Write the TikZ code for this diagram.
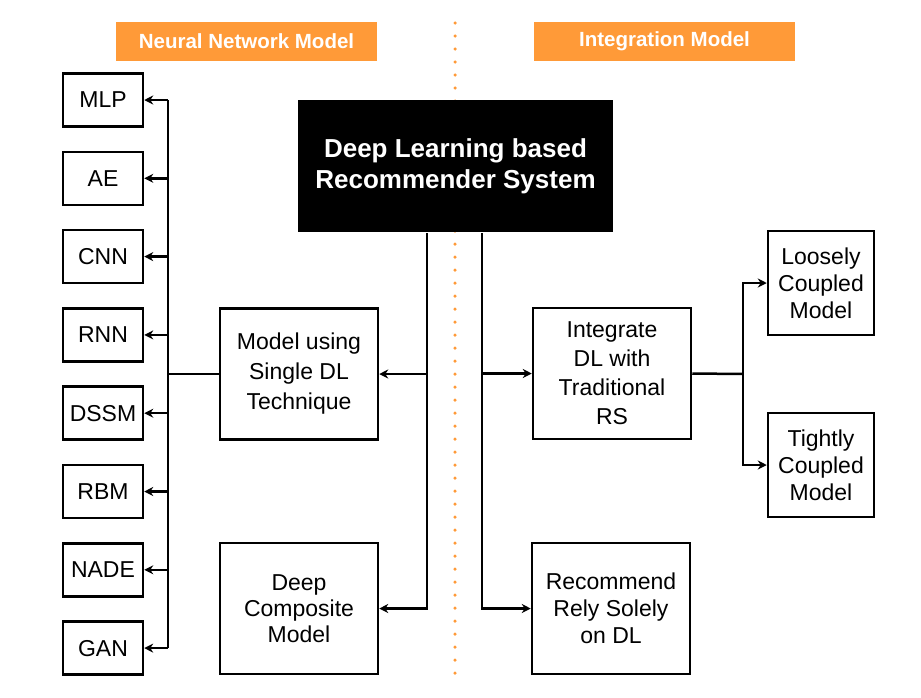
\documentclass[tikz,border=0pt]{standalone}
\usepackage{fontspec}
\setmainfont{Liberation Sans}
\usepackage{xcolor}
\usetikzlibrary{arrows.meta}
\usetikzlibrary{positioning}
\definecolor{hdrorange}{RGB}{255,154,56}

\begin{document}
\begin{tikzpicture}[x=1pt,y=-1pt,node distance=78.3pt,line width=2.5pt,
  arr/.style={-{Stealth[length=9pt,width=9pt]}}]
  \tikzstyle{every node}=[font=\fontsize{23}{27}\selectfont]
  \tikzstyle{leaf}=[draw=black, minimum width=80pt, minimum height=53pt, inner sep=0pt]
  \tikzstyle{kind}=[draw=black, minimum width=158pt, minimum height=131pt, align=center, inner sep=0pt]
  \tikzstyle{sub}=[draw=black, minimum width=106pt, minimum height=104pt, align=center, inner sep=0pt]
  \tikzstyle{hdr}=[fill=hdrorange, text=white, minimum width=261pt, minimum height=39pt,
    font=\fontsize{20.5}{24}\selectfont\bfseries]
  \useasboundingbox (0,0) rectangle (921,697);

  % headers and divider
  \node[hdr] (nnhdr) at (246.5,41.5) {Neural Network Model};
  \node[hdr] (inthdr) at (664.5,41.5) {Integration Model};
  \draw[hdrorange, line width=3.5pt, line cap=round, dash pattern=on 0pt off 13pt] (455,23) -- (455,676);

  % root
  \node[fill=black, text=white, minimum width=315pt, minimum height=132pt, align=center,
    font=\fontsize{26}{31}\selectfont\bfseries] (dl) at (455.5,166) {Deep Learning based\\Recommender System};

  % neural network models
  \node[leaf] (mlp) at (103,100) {MLP};
  \node[leaf] (ae) [below of=mlp] {AE};
  \node[leaf] (cnn) [below of=ae] {CNN};
  \node[leaf] (rnn) [below of=cnn] {RNN};
  \node[leaf] (dssm) [below of=rnn] {DSSM};
  \node[leaf] (rbm) [below of=dssm] {RBM};
  \node[leaf] (nade) [below of=rbm] {NADE};
  \node[leaf] (gan) [below of=nade] {GAN};

  \node[kind, font=\fontsize{23}{30}\selectfont] (single) at (299,374) {Model using\\Single DL\\Technique};
  \node[kind, font=\fontsize{23}{26}\selectfont] (deep) at (299,608.5) {Deep\\Composite\\Model};
  \node[kind, font=\fontsize{23}{29}\selectfont] (integ) at (612,373.5) {Integrate\\DL with\\Traditional\\RS};
  \node[kind, font=\fontsize{23}{27}\selectfont] (rely) at (611,608.5) {Recommend\\Rely Solely\\on DL};
  \node[sub] (loose) at (821,283) {Loosely\\Coupled\\Model};
  \node[sub] (tight) at (821,465) {Tightly\\Coupled\\Model};

  \coordinate (lbus) at (427,0);
  \coordinate (rbus) at (482,0);
  \coordinate (nbus) at (168,374);
  \coordinate (ibr) at (743,374);

  \draw[arr] (dl.south -| lbus) |- (single.east);
  \draw[arr] (dl.south -| lbus) |- (deep.east);
  \draw[arr] (dl.south -| rbus) |- (integ.west);
  \draw[arr] (dl.south -| rbus) |- (rely.west);

  \draw (single.west) -- (nbus);
  \draw (nbus |- mlp) -- (nbus |- gan);
  \foreach \n in {mlp,ae,cnn,rnn,dssm,rbm,nade,gan}{
    \draw[arr] (nbus |- \n) -- (\n.east);
  }

  \draw (integ.east) -- (ibr);
  \draw[arr] (ibr) |- (loose.west);
  \draw[arr] (ibr) |- (tight.west);
\end{tikzpicture}
\end{document}
